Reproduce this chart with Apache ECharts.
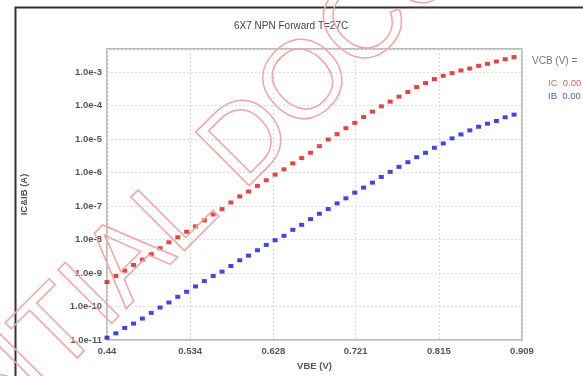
<!DOCTYPE html>
<html>
<head>
<meta charset="utf-8">
<script src="https://cdn.jsdelivr.net/npm/echarts@6/dist/echarts.min.js"></script>
<style>
  html, body { margin: 0; padding: 0; background: #fff; }
  #chart { width: 583px; height: 376px; }
</style>
</head>
<body>
<div id="chart"></div>
<script>
// VBE sweep (V)
const vbe = [
  0.44, 0.45, 0.46, 0.47, 0.48, 0.49, 0.50, 0.51, 0.52, 0.53,
  0.54, 0.55, 0.56, 0.57, 0.58, 0.59, 0.60, 0.61, 0.62, 0.63,
  0.64, 0.65, 0.66, 0.67, 0.68, 0.69, 0.70, 0.71, 0.72, 0.73,
  0.74, 0.75, 0.76, 0.77, 0.78, 0.79, 0.80, 0.81, 0.82, 0.83,
  0.84, 0.85, 0.86, 0.87, 0.88, 0.89, 0.90,
]

// collector current (A)
const ic = [
  5.37e-10, 8.13e-10, 1.18e-9, 1.74e-9, 2.52e-9, 3.65e-9, 5.50e-9, 8.28e-9, 1.17e-8, 1.71e-8,
  2.48e-8, 3.73e-8, 5.62e-8, 8.09e-8, 1.28e-7, 1.94e-7, 2.72e-7, 3.98e-7, 5.89e-7, 8.69e-7,
  1.25e-6, 1.88e-6, 2.71e-6, 3.92e-6, 6.15e-6, 9.73e-6, 1.40e-5, 2.11e-5, 3.05e-5, 4.54e-5,
  6.61e-5, 9.51e-5, 1.31e-4, 1.85e-4, 2.55e-4, 3.58e-4, 4.71e-4, 6.19e-4, 7.76e-4, 9.33e-4,
  1.12e-3, 1.28e-3, 1.54e-3, 1.77e-3, 2.07e-3, 2.43e-3, 2.80e-3,
]

// base current (A)
const ib = [
  1.17e-11, 1.58e-11, 2.29e-11, 3.09e-11, 4.37e-11, 6.46e-11, 9.33e-11, 1.32e-10, 1.95e-10, 2.75e-10,
  3.98e-10, 5.75e-10, 8.13e-10, 1.10e-9, 1.62e-9, 2.40e-9, 3.31e-9, 4.79e-9, 6.92e-9, 9.55e-9,
  1.29e-8, 1.95e-8, 2.75e-8, 4.07e-8, 5.89e-8, 8.13e-8, 1.20e-7, 1.70e-7, 2.51e-7, 3.55e-7,
  5.01e-7, 7.41e-7, 1.05e-6, 1.48e-6, 2.04e-6, 2.88e-6, 3.89e-6, 5.50e-6, 7.41e-6, 1.05e-5,
  1.38e-5, 1.82e-5, 2.34e-5, 2.88e-5, 3.47e-5, 4.47e-5, 5.37e-5,
]

const xTicks = [0.44, 0.534, 0.628, 0.721, 0.815, 0.909]

const FONT = 'Liberation Sans'

const toPairs = ys => vbe.map((v, i) => [v, ys[i]])

const chart = echarts.init(document.getElementById('chart'))

chart.setOption({
  animation: false,
  title: {
    text: '6X7 NPN Forward T=27C',
    left: 229,
    top: 16,
    textStyle: { fontSize: 10, fontWeight: 'normal', color: '#444', fontFamily: FONT },
  },
  grid: {
    left: 107,
    right: 61,
    top: 49,
    bottom: 34,
    show: true,
    borderColor: '#a8a8a8',
    borderWidth: 1.5,
  },
  legend: {
    orient: 'vertical',
    left: 538,
    top: 73,
    itemGap: 3,
    itemWidth: 0,
    itemHeight: 9,
    formatter: name => name + '  0.00',
    data: [
      { name: 'IC', icon: 'none', textStyle: { color: '#e06060' } },
      { name: 'IB', icon: 'none', textStyle: { color: '#5060c8' } },
    ],
    textStyle: { fontSize: 9.5, fontFamily: FONT },
  },
  xAxis: {
    type: 'value',
    min: 0.44,
    max: 0.909,
    name: 'VBE (V)',
    nameLocation: 'middle',
    nameGap: 21,
    nameTextStyle: { fontSize: 9.5, color: '#555', fontFamily: FONT, fontWeight: 'bold' },
    axisLine: { show: false },
    axisTick: { show: false, customValues: xTicks },
    axisLabel: {
      customValues: xTicks,
      fontSize: 9.5,
      color: '#555',
      fontWeight: 'bold',
      fontFamily: FONT,
      margin: 6,
      formatter: v => String(v),
    },
    splitLine: { lineStyle: { color: '#dcdcdc', type: [2, 2] } },
  },
  yAxis: {
    type: 'log',
    min: 1e-11,
    max: 4.9e-3,
    name: 'IC&IB (A)',
    nameLocation: 'middle',
    nameGap: 78,
    nameTextStyle: { fontSize: 9.5, color: '#555', fontFamily: FONT, fontWeight: 'bold' },
    axisLine: { show: false },
    axisTick: { show: false },
    axisLabel: {
      fontSize: 9.5,
      color: '#555',
      fontWeight: 'bold',
      fontFamily: FONT,
      margin: 5,
      showMaxLabel: false,
      formatter: v => v.toExponential(1),
    },
    splitLine: { lineStyle: { color: '#dcdcdc', type: [2, 2] } },
  },
  graphic: [
    // outer frame
    {
      type: 'rect',
      left: 13,
      top: 5,
      shape: { width: 620, height: 420 },
      style: { fill: 'none', stroke: '#333', lineWidth: 2 },
      silent: true,
    },
    {
      type: 'text',
      left: 532,
      top: 56,
      style: { text: 'VCB (V) =', fill: '#777', fontSize: 10, fontFamily: FONT },
    },
    // watermark
    {
      type: 'text',
      x: 150,
      y: 242,
      rotation: Math.PI / 4,
      z: 100,
      silent: true,
      style: {
        text: 'CONFIDENTIAL DOCUMENT',
        fontSize: 110,
        fontFamily: FONT,
        fill: 'none',
        stroke: '#f4a4a4',
        lineWidth: 1.5,
        align: 'center',
        verticalAlign: 'middle',
      },
    },
  ],
  series: [
    {
      name: 'IC',
      type: 'scatter',
      symbol: 'rect',
      symbolSize: [5, 4],
      itemStyle: { color: '#e01414' },
      data: toPairs(ic),
    },
    {
      name: 'IB',
      type: 'scatter',
      symbol: 'rect',
      symbolSize: [5, 4],
      itemStyle: { color: '#1414e0' },
      data: toPairs(ib),
    },
  ],
})
</script>
</body>
</html>
